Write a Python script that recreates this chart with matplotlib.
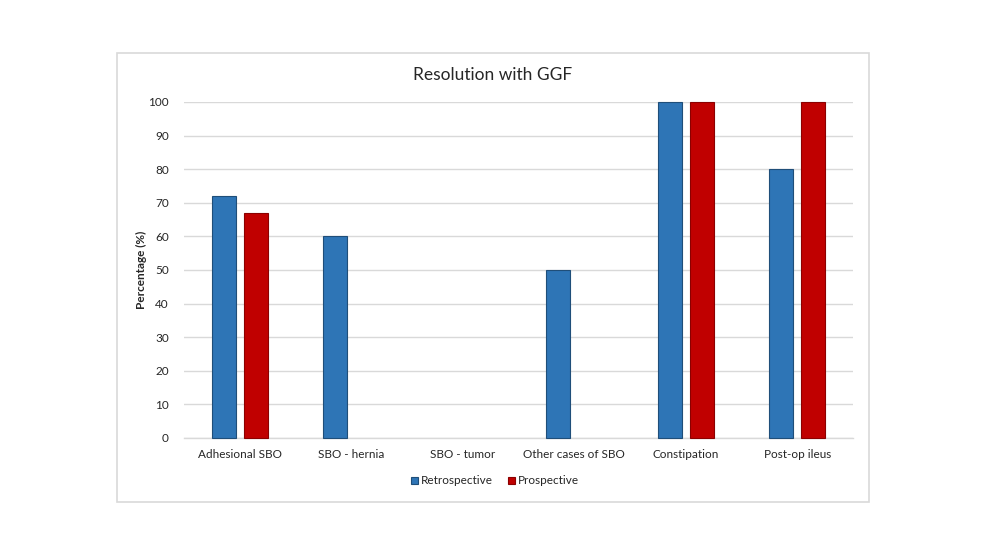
import matplotlib
matplotlib.use("Agg")
import matplotlib.pyplot as plt
import numpy as np
from matplotlib.patches import Rectangle

categories = ["Adhesional SBO", "SBO - hernia", "SBO - tumor", "Other cases of SBO", "Constipation", "Post-op ileus"]
retrospective = [72, 60, 0, 50, 100, 80]
prospective = [67, 0, 0, 0, 100, 100]
yticks = [0, 10, 20, 30, 40, 50, 60, 70, 80, 90, 100]

plt.rcParams['font.family'] = ['Lato', 'DejaVu Sans']

fig = plt.figure(figsize=(9.86, 5.55), dpi=100)
fig.patches.append(Rectangle((117/986, 1-502/555), (869-117)/986, (502-53)/555,
                             transform=fig.transFigure, fill=False, edgecolor='#D9D9D9', linewidth=1.2))

ax = fig.add_axes([184/986, 1-438/555, (853-184)/986, (438-102)/555])
x = np.arange(len(categories))
w = 0.215
off = 0.145
b1 = ax.bar(x - off, retrospective, w, color='#2E75B6', edgecolor='#1F4E79', linewidth=0.8, label='Retrospective', zorder=3, clip_on=False)
b2 = ax.bar(x + off, prospective, w, color='#C00000', edgecolor='#8B0000', linewidth=0.8, label='Prospective', zorder=3, clip_on=False)
for bars, vals in ((b1, retrospective), (b2, prospective)):
    for r, v in zip(bars, vals):
        if v == 0:
            r.set_visible(False)

ax.set_xlim(-0.5, len(categories) - 0.5)
ax.set_ylim(0, 100)
ax.set_yticks(yticks)
ax.set_xticks(x)
ax.set_xticklabels(categories, fontsize=8.5, color='#262626')
ax.tick_params(axis='y', labelsize=8.5, colors='#262626', length=0, pad=11)
ax.tick_params(axis='x', length=0, pad=8)
ax.grid(axis='y', color='#D9D9D9', linewidth=1, zorder=0)
for s in ['top', 'right', 'left']:
    ax.spines[s].set_visible(False)
ax.spines['bottom'].set_color('#D9D9D9')
ax.spines['bottom'].set_linewidth(1)
ax.set_ylabel('Percentage (%)', fontsize=8.5, fontweight='bold', color='#262626', labelpad=1)

fig.text(0.5 * (117 + 869) / 986, 1 - 75/555, 'Resolution with GGF', ha='center', va='center', fontsize=12.5, color='#262626')

fig.legend(handles=[b1, b2], loc='center', bbox_to_anchor=(495/986, 1-481/555), ncol=2, frameon=False,
           fontsize=8.5, handlelength=0.6, handleheight=0.6, handletextpad=0.3, columnspacing=1.2, labelcolor='#262626')

fig.savefig('out.png', dpi=100, facecolor='white')
